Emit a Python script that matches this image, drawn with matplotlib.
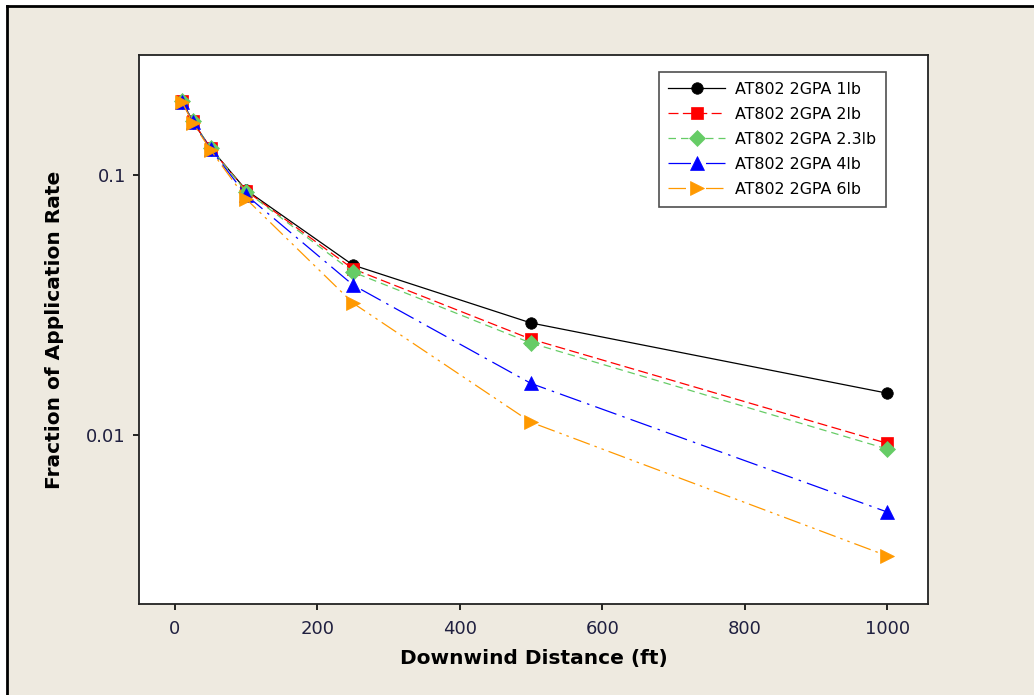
import matplotlib
matplotlib.use("Agg")
import matplotlib.pyplot as plt
from matplotlib.lines import Line2D
from matplotlib.patches import Rectangle
from matplotlib.ticker import FixedLocator, NullLocator, FixedFormatter

distance = [10, 25, 50, 100, 250, 500, 1000]
rate_1lb = [0.193, 0.161, 0.127, 0.0876, 0.0451, 0.0270, 0.0145]
rate_2lb = [0.193, 0.161, 0.127, 0.0870, 0.0436, 0.0234, 0.0093]
rate_23lb = [0.193, 0.161, 0.127, 0.0865, 0.0424, 0.0226, 0.00884]
rate_4lb = [0.192, 0.160, 0.126, 0.0838, 0.0378, 0.0158, 0.00506]
rate_6lb = [0.191, 0.159, 0.125, 0.0810, 0.0322, 0.0112, 0.00343]
labels = ["AT802 2GPA 1lb", "AT802 2GPA 2lb", "AT802 2GPA 2.3lb",
          "AT802 2GPA 4lb", "AT802 2GPA 6lb"]
x_ticks = [0, 200, 400, 600, 800, 1000]
y_ticks = [0.01, 0.1]
y_tick_labels = ["0.01", "0.1"]

bg = "#EEEAE0"
fig = plt.figure(figsize=(10.34, 6.95), dpi=100, facecolor="white")
fig.patches.append(Rectangle((7 / 1034, 0), 1.0, 1 - 6 / 695,
                   transform=fig.transFigure, facecolor=bg, edgecolor="none", zorder=-10))
fig.lines.append(Line2D([7 / 1034, 7 / 1034], [0, 1 - 6 / 695], transform=fig.transFigure,
                        color="black", lw=2, zorder=-9))
fig.lines.append(Line2D([7 / 1034, 1], [1 - 6 / 695, 1 - 6 / 695], transform=fig.transFigure,
                        color="black", lw=2, zorder=-9))

ax = fig.add_axes([139 / 1034, 1 - 604 / 695, (928.5 - 139) / 1034, (604 - 55) / 695])
ax.set_zorder(1)
ax.set_facecolor("white")

series = [
    (rate_1lb, "black", "-", "o", 8.3),
    (rate_2lb, "#FF0000", (0, (8, 3.5)), "s", 8.0),
    (rate_23lb, "#66CC66", (0, (6, 4)), "D", 8.0),
    (rate_4lb, "#0000FF", (0, (18, 5, 2, 5)), "^", 10),
    (rate_6lb, "#FF9900", (0, (14, 4, 2, 4, 2, 4)), ">", 10),
]
for (vals, color, ls, mk, ms), lab in zip(series, labels):
    ax.plot(distance, vals, color=color, linestyle=ls, lw=0.9, marker=mk,
            markersize=ms, markeredgewidth=0.5, markeredgecolor=color,
            markerfacecolor=color, label=lab)

ax.set_yscale("log")
ax.set_xlim(-50.5, 1058)
ax.set_ylim(0.00224, 0.29)
ax.yaxis.set_major_locator(FixedLocator(y_ticks))
ax.yaxis.set_major_formatter(FixedFormatter(y_tick_labels))
ax.yaxis.set_minor_locator(NullLocator())
ax.set_xticks(x_ticks)
ax.tick_params(axis="both", which="major", direction="out", length=4.5, width=1.2,
               labelsize=13, labelcolor="#202040", pad=5)
ax.tick_params(axis="x", pad=7)
for s in ax.spines.values():
    s.set_linewidth(1.3)
    s.set_color("#222222")

ax.set_xlabel("Downwind Distance (ft)", fontsize=14.5, fontweight="bold", labelpad=8)
ax.set_ylabel("Fraction of Application Rate", fontsize=14.5, fontweight="bold", labelpad=16)

leg = ax.legend(loc="upper right", bbox_to_anchor=((886 - 139) / 789.5, (604 - 72) / 549),
                fontsize=11.4, frameon=True, fancybox=False, edgecolor="#222222",
                borderpad=0.6, labelspacing=0.64, handlelength=3.6, handletextpad=0.65,
                borderaxespad=0)
leg.get_frame().set_linewidth(1.2)

fig.savefig("out.png", dpi=100, facecolor=fig.get_facecolor())
